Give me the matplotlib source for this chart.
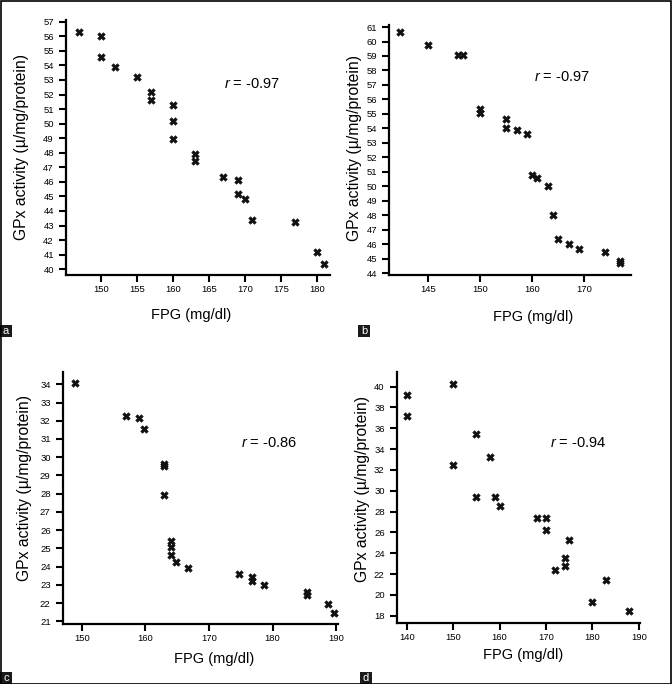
import numpy as np
import matplotlib
matplotlib.use('Agg')
import matplotlib.pyplot as plt
from matplotlib.patches import Rectangle

plt.rcParams['font.family'] = ['Liberation Sans', 'DejaVu Sans']
plt.rcParams['mathtext.fontset'] = 'custom'
plt.rcParams['mathtext.rm'] = 'Liberation Sans'
plt.rcParams['mathtext.it'] = 'Liberation Sans:italic'

W, H = 672, 684

# dados
a_fpg = [147, 150, 150, 152, 155, 157, 157, 160, 160, 160, 163, 163, 167, 169, 169, 170, 171, 177, 180, 181]
a_gpx = [56.3, 56.0, 54.6, 53.9, 53.2, 52.2, 51.6, 51.3, 50.2, 48.95, 47.9, 47.45, 46.35, 46.1, 45.15, 44.8, 43.35, 43.25, 41.15, 40.35]

b_fpg = [142.4, 145, 147.9, 148.4, 150, 150, 155, 155, 157, 159, 160, 161, 163, 164, 165, 167, 169, 174, 176.8, 176.8]
b_gpx = [60.65, 59.75, 59.05, 59.05, 55.35, 55.05, 54.65, 54.0, 53.9, 53.6, 50.8, 50.6, 50.0, 48.0, 46.35, 46.0, 45.7, 45.45, 44.85, 44.7]

c_fpg = [149, 157, 159, 159.8, 163, 163, 163, 164, 164, 164, 164.8, 166.7, 174.7, 176.7, 176.7, 178.6, 185.5, 185.5, 188.8, 189.7]
c_gpx = [34.05, 32.26, 32.17, 31.57, 29.6, 29.52, 27.9, 25.43, 25.06, 24.64, 24.26, 23.93, 23.58, 23.45, 23.23, 22.99, 22.63, 22.45, 21.93, 21.48]

d_fpg = [140, 140, 150, 150, 155, 155, 158, 159, 160, 168, 170, 170, 172, 174, 174, 175, 180, 183, 188]
d_gpx = [39.2, 37.15, 40.3, 32.5, 35.5, 29.4, 33.25, 29.4, 28.5, 27.4, 27.4, 26.2, 22.4, 23.5, 22.8, 25.3, 19.35, 21.4, 18.45]

r_values = ['-0.97', '-0.97', '-0.86', '-0.94']
letters = ['a', 'b', 'c', 'd']

a_xticks = [150, 155, 160, 165, 170, 175, 180]
b_xticks = [145, 150, 160, 170]
c_xticks = [150, 160, 170, 180, 190]
d_xticks = [140, 150, 160, 170, 180, 190]
a_yticks = np.arange(40, 58, 1)
b_yticks = np.arange(44, 62, 1)
c_yticks = np.arange(21, 35, 1)
d_yticks = np.arange(18, 41, 2)


def px_axes(fig, left, right, top, bottom):
    return fig.add_axes([left / W, 1 - bottom / H, (right - left) / W, (bottom - top) / H])


def fig_text(fig, x, y, s, **kw):
    return fig.text(x / W, 1 - y / H, s, **kw)


# eixo x do painel b: trecho 145-150 esticado (como no original)
def fwd(x):
    x = np.asarray(x, dtype=float)
    return np.where(x < 150, 150 + 2 * (x - 150), x)


def inv(t):
    t = np.asarray(t, dtype=float)
    return np.where(t < 150, 150 + (t - 150) / 2, t)


fig = plt.figure(figsize=(W / 100, H / 100), dpi=100)

paineis = [
    # dados, ticks, limites, caixa em px, pos ylabel, pos xlabel, pos r, pos letra
    (a_fpg, a_gpx, a_xticks, a_yticks, (145.14, 181.8), (39.6, 57.12), (66, 330, 20, 275),
     (21.7, 147), (191, 315), (252, 84), (0, 325)),
    (b_fpg, b_gpx, b_xticks, b_yticks, (141.33, 178.9), (43.85, 61.14), (389.3, 631, 25, 275.3),
     (354.3, 148), (533, 317), (562, 77), (358, 325)),
    (c_fpg, c_gpx, c_xticks, c_yticks, (147.0, 190.3), (20.85, 34.69), (62.7, 338, 371.7, 624),
     (25, 488), (214, 659), (269, 443), (0, 672)),
    (d_fpg, d_gpx, d_xticks, d_yticks, (137.8, 190.2), (17.27, 41.38), (396.7, 639.7, 372.3, 623.3),
     (362.7, 489), (523.5, 655), (578, 443), (360, 672)),
]

for i, (xs, ys, xt, yt, xl, yl, box, ylab, xlab, rpos, lpos) in enumerate(paineis):
    ax = px_axes(fig, *box)
    if i == 1:
        ax.set_xscale('function', functions=(fwd, inv))
    ax.scatter(xs, ys, marker='X', s=30, color='#111111', linewidths=0.4, edgecolors='#111111', zorder=3)
    ax.set_xlim(*xl)
    ax.set_ylim(*yl)
    ax.set_xticks(xt)
    ax.set_xticklabels([str(t) for t in xt])
    ax.set_yticks(yt)
    ax.set_yticklabels([str(t) for t in yt])
    ax.spines['top'].set_visible(False)
    ax.spines['right'].set_visible(False)
    for s in ['left', 'bottom']:
        ax.spines[s].set_linewidth(1.6)
    ax.tick_params(axis='both', direction='out', length=5.3, width=1.5, labelsize=6.8, colors='black')
    ax.tick_params(axis='y', pad=3.4)
    ax.tick_params(axis='x', pad=1.8)
    ax.minorticks_off()

    fig_text(fig, ylab[0], ylab[1], 'GPx activity (µ/mg/protein)', rotation=90,
             ha='center', va='center', fontsize=11.3)
    fig_text(fig, xlab[0], xlab[1], 'FPG (mg/dl)', ha='center', va='center', fontsize=10.5)
    fig_text(fig, rpos[0], rpos[1], '$r$ = ' + r_values[i], ha='center', va='center', fontsize=10.5)

    # letra do painel
    fig.patches.append(Rectangle((lpos[0] / W, 1 - (lpos[1] + 12) / H), 12 / W, 12 / H,
                                 transform=fig.transFigure, facecolor='#1a1a1a', edgecolor='none'))
    fig_text(fig, lpos[0] + 6, lpos[1] + 6, letters[i], ha='center', va='center',
             fontsize=8, color='white')

# moldura
fig.patches.append(Rectangle((0.5 / W, 0.5 / H), 1 - 1.5 / W, 1 - 1.5 / H, transform=fig.transFigure,
                             fill=False, edgecolor='black', linewidth=1.2))

fig.savefig('out.png', dpi=100)
